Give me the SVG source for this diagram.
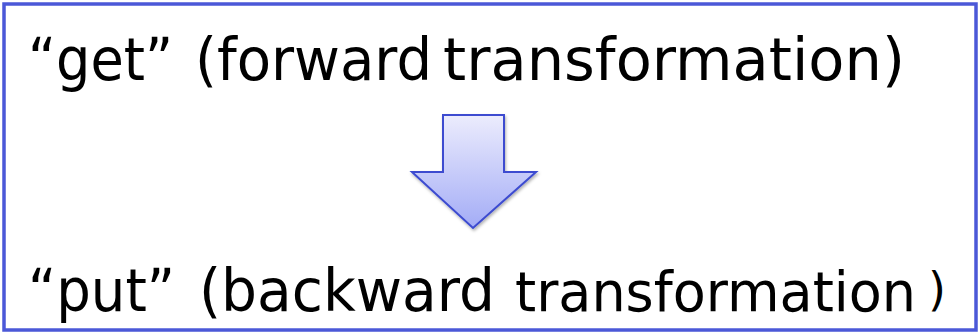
<svg xmlns="http://www.w3.org/2000/svg" width="980" height="335" viewBox="0 0 980 335">
<style>
.t{font-family:"DejaVu Sans","Noto Sans",sans-serif;font-size:59px;fill:#000}
.m{font-size:55px}
.s{font-size:46px}
</style>
<defs>
<linearGradient id="ag" x1="0" y1="0" x2="0" y2="1">
<stop offset="0" stop-color="#ececfd"/>
<stop offset="1" stop-color="#a3acf6"/>
</linearGradient>
<filter id="sh" x="-20%" y="-20%" width="140%" height="140%">
<feDropShadow dx="1" dy="2" stdDeviation="1.5" flood-color="#000" flood-opacity="0.3"/>
</filter>
</defs>
<rect x="0" y="0" width="980" height="335" fill="#fff"/>
<rect id="frame" x="4" y="4" width="972" height="326" fill="#fff" stroke="#4b58d8" stroke-width="3.5"/>
<g id="get">
<text class="t" x="28" y="80" textLength="145" lengthAdjust="spacingAndGlyphs">“get”</text>
<text class="t" x="195" y="80" textLength="237" lengthAdjust="spacingAndGlyphs">(forward</text>
<text class="t" x="443" y="80" textLength="462" lengthAdjust="spacingAndGlyphs">transformation)</text>
</g>
<g id="connectors">
<polygon points="443,115 504,115 504,172 536,172 473,228 412,172 443,172" fill="url(#ag)" stroke="#3c4bd0" stroke-width="2" stroke-linejoin="miter" filter="url(#sh)"/>
</g>
<g id="put">
<text class="t" x="28" y="311" textLength="147" lengthAdjust="spacingAndGlyphs">“put”</text>
<text class="t" x="199" y="311" textLength="296" lengthAdjust="spacingAndGlyphs">(backward</text>
<text class="t m" x="515" y="311" textLength="401" lengthAdjust="spacingAndGlyphs">transformation</text>
<text class="t s" x="928" y="305">)</text>
</g>
</svg>
